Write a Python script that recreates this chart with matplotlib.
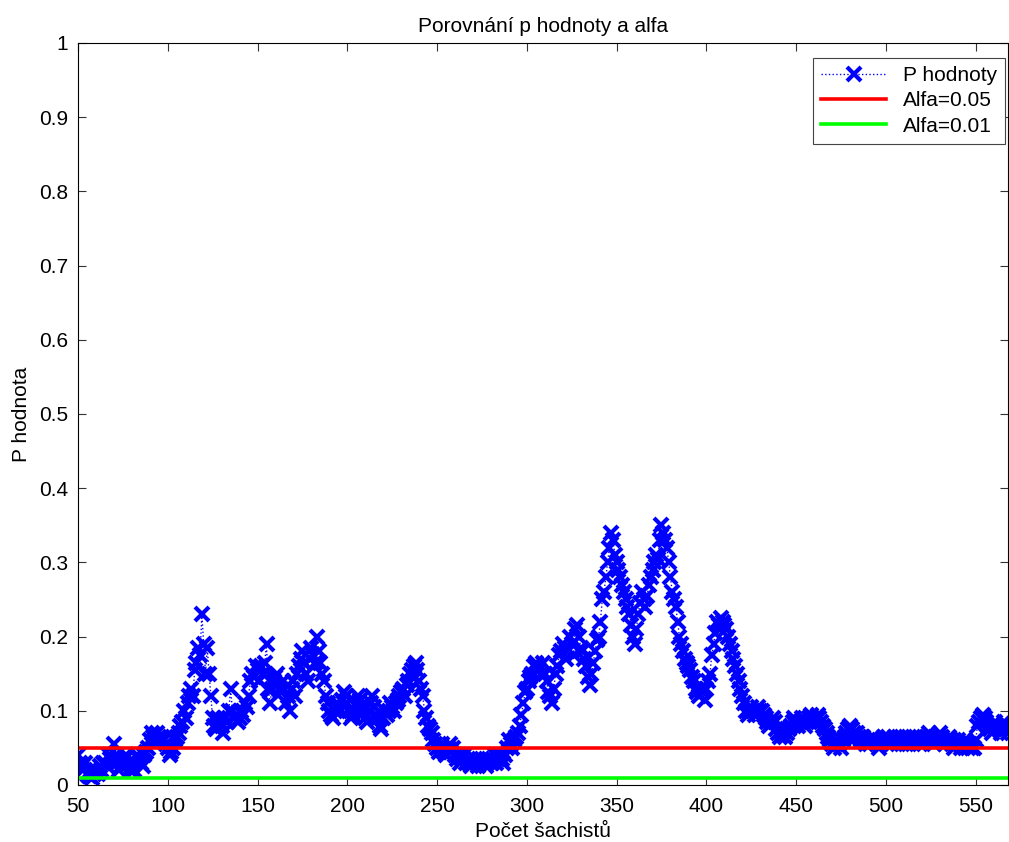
import matplotlib
matplotlib.use("Agg")
import matplotlib.pyplot as plt
import numpy as np

plt.rcParams['font.family'] = ['Liberation Sans', 'DejaVu Sans']

# pocet sachistu 50..568, p hodnoty
x_start = 50
p_vals = [
    0.04, 0.03, 0.025, 0.02, 0.03, 0.015, 0.012, 0.02, 0.01, 0.015,      # 50
    0.02, 0.015, 0.025, 0.02, 0.03, 0.03, 0.025, 0.04, 0.035, 0.03,      # 60
    0.055, 0.04, 0.03, 0.02, 0.025, 0.03, 0.035, 0.04, 0.03, 0.02,       # 70
    0.025, 0.02, 0.03, 0.04, 0.035, 0.03, 0.025, 0.04, 0.045, 0.05,      # 80
    0.06, 0.07, 0.065, 0.06, 0.07, 0.065, 0.06, 0.065, 0.06, 0.055,      # 90
    0.05, 0.04, 0.045, 0.05, 0.06, 0.065, 0.07, 0.08, 0.085, 0.1,        # 100
    0.09, 0.11, 0.12, 0.13, 0.12, 0.155, 0.165, 0.185, 0.175, 0.23,      # 110
    0.19, 0.15, 0.185, 0.15, 0.12, 0.09, 0.08, 0.075, 0.09, 0.085,       # 120
    0.08, 0.07, 0.09, 0.085, 0.1, 0.13, 0.1, 0.09, 0.095, 0.085,         # 130
    0.09, 0.1, 0.095, 0.11, 0.105, 0.12, 0.14, 0.15, 0.145, 0.16,        # 140
    0.155, 0.14, 0.16, 0.15, 0.165, 0.19, 0.13, 0.11, 0.13, 0.14,       # 150
    0.145, 0.15, 0.13, 0.125, 0.14, 0.13, 0.11, 0.12, 0.1, 0.13,         # 160
    0.14, 0.12, 0.15, 0.16, 0.17, 0.18, 0.165, 0.15, 0.14, 0.17,         # 170
    0.185, 0.175, 0.165, 0.2, 0.18, 0.165, 0.15, 0.14, 0.12, 0.11,       # 180
    0.1, 0.095, 0.09, 0.1, 0.11, 0.105, 0.1, 0.115, 0.125, 0.12,         # 190
    0.11, 0.1, 0.09, 0.095, 0.1, 0.11, 0.12, 0.115, 0.105, 0.1,          # 200
    0.09, 0.085, 0.1, 0.11, 0.12, 0.105, 0.095, 0.09, 0.08, 0.075,       # 210
    0.09, 0.1, 0.095, 0.1, 0.11, 0.105, 0.1, 0.11, 0.115, 0.12,          # 220
    0.125, 0.13, 0.12, 0.135, 0.14, 0.15, 0.155, 0.16, 0.165, 0.155,     # 230
    0.14, 0.13, 0.12, 0.1, 0.09, 0.08, 0.075, 0.07, 0.06, 0.055,         # 240
    0.05, 0.045, 0.05, 0.055, 0.045, 0.04, 0.05, 0.055, 0.045, 0.05,     # 250
    0.04, 0.035, 0.04, 0.03, 0.035, 0.04, 0.03, 0.035, 0.03, 0.025,      # 260
    0.03, 0.035, 0.03, 0.025, 0.03, 0.035, 0.03, 0.025, 0.03, 0.035,     # 270
    0.03, 0.035, 0.04, 0.03, 0.035, 0.04, 0.035, 0.03, 0.04, 0.05,       # 280
    0.06, 0.055, 0.05, 0.06, 0.065, 0.07, 0.08, 0.095, 0.11, 0.125,      # 290
    0.13, 0.14, 0.145, 0.15, 0.16, 0.165, 0.16, 0.155, 0.15, 0.165,      # 300
    0.15, 0.14, 0.125, 0.12, 0.11, 0.13, 0.15, 0.16, 0.175, 0.18,        # 310
    0.19, 0.185, 0.17, 0.18, 0.2, 0.19, 0.175, 0.21, 0.215, 0.2,         # 320
    0.185, 0.18, 0.17, 0.16, 0.145, 0.135, 0.15, 0.165, 0.18, 0.195,     # 330
    0.2, 0.22, 0.25, 0.26, 0.28, 0.3, 0.32, 0.34, 0.33, 0.31,            # 340
    0.3, 0.29, 0.28, 0.27, 0.26, 0.25, 0.24, 0.23, 0.215, 0.2,           # 350
    0.19, 0.21, 0.23, 0.245, 0.26, 0.25, 0.24, 0.255, 0.27, 0.28,        # 360
    0.29, 0.3, 0.31, 0.305, 0.33, 0.35, 0.34, 0.33, 0.32, 0.3,           # 370
    0.28, 0.26, 0.25, 0.24, 0.22, 0.2, 0.19, 0.18, 0.17, 0.165,          # 380
    0.16, 0.155, 0.145, 0.14, 0.13, 0.125, 0.12, 0.13, 0.125, 0.115,     # 390
    0.13, 0.14, 0.15, 0.175, 0.19, 0.205, 0.22, 0.215, 0.225, 0.22,      # 400
    0.215, 0.21, 0.2, 0.19, 0.18, 0.17, 0.16, 0.15, 0.14, 0.13,          # 410
    0.12, 0.11, 0.1, 0.095, 0.1, 0.105, 0.1, 0.095, 0.1, 0.105,          # 420
    0.1, 0.1, 0.095, 0.09, 0.085, 0.08, 0.085, 0.09, 0.085, 0.075,       # 430
    0.07, 0.065, 0.07, 0.075, 0.065, 0.07, 0.075, 0.08, 0.085, 0.09,     # 440
    0.085, 0.08, 0.085, 0.09, 0.085, 0.08, 0.085, 0.09, 0.095, 0.09,     # 450
    0.085, 0.09, 0.095, 0.09, 0.085, 0.08, 0.075, 0.07, 0.065, 0.06,     # 460
    0.055, 0.05, 0.055, 0.06, 0.055, 0.05, 0.06, 0.065, 0.07, 0.075,     # 470
    0.08, 0.075, 0.07, 0.065, 0.07, 0.065, 0.06, 0.065, 0.06, 0.055,     # 480
    0.06, 0.055, 0.06, 0.065, 0.06, 0.055, 0.05, 0.055, 0.06, 0.065,     # 490
    0.06, 0.065, 0.06, 0.055, 0.06, 0.065, 0.06, 0.055, 0.06, 0.065,     # 500
    0.06, 0.055, 0.06, 0.065, 0.06, 0.055, 0.06, 0.065, 0.06, 0.055,     # 510
    0.06, 0.065, 0.06, 0.065, 0.07, 0.065, 0.06, 0.055, 0.06, 0.065,     # 520
    0.07, 0.065, 0.06, 0.055, 0.06, 0.065, 0.06, 0.055, 0.05, 0.055,     # 530
    0.06, 0.055, 0.05, 0.055, 0.06, 0.055, 0.05, 0.055, 0.05, 0.05,      # 540
    0.06, 0.08, 0.085, 0.09, 0.095, 0.09, 0.085, 0.08, 0.075, 0.07,      # 550
    0.08, 0.085, 0.08, 0.075, 0.07, 0.08, 0.085, 0.075, 0.07,            # 560
]
x_vals = np.arange(x_start, x_start + len(p_vals))
alfa1 = 0.05
alfa2 = 0.01

xticks = [50, 100, 150, 200, 250, 300, 350, 400, 450, 500, 550]
yticks = [0, 0.1, 0.2, 0.3, 0.4, 0.5, 0.6, 0.7, 0.8, 0.9, 1]
ytick_labels = ["0", "0.1", "0.2", "0.3", "0.4", "0.5", "0.6", "0.7", "0.8", "0.9", "1"]

FS = 15

fig = plt.figure(figsize=(10.09, 8.42), dpi=100)
ax = fig.add_axes([0.0773, 0.0677, 0.9217, 0.8813])

ax.plot(x_vals, p_vals, color="blue", linestyle=":", linewidth=1,
        marker="x", markersize=10, markeredgewidth=3, label="P hodnoty")
ax.axhline(alfa1, color=(1, 0, 0), linewidth=2.6, label="Alfa=0.05")
ax.axhline(alfa2, color=(0, 1, 0), linewidth=2.6, label="Alfa=0.01")

ax.set_xlim(50, 568)
ax.set_ylim(0, 1)
ax.set_xticks(xticks)
ax.set_yticks(yticks)
ax.set_yticklabels(ytick_labels)
ax.tick_params(direction="in", length=6, top=True, right=True, labelsize=FS,
               color="#333333")
ax.tick_params(axis="x", pad=9)
ax.tick_params(axis="y", pad=7)
for s in ax.spines.values():
    s.set_linewidth(0.8)

ax.set_title("Porovnání p hodnoty a alfa", fontsize=FS, pad=8)
ax.set_xlabel("Počet šachistů", fontsize=FS, labelpad=4)
ax.set_ylabel("P hodnota", fontsize=FS, labelpad=6)

leg = ax.legend(loc="upper right", bbox_to_anchor=(0.997, 0.98), borderaxespad=0,
                fontsize=FS, fancybox=False, framealpha=1, edgecolor="#444444",
                handlelength=3.1, labelspacing=0.3, borderpad=0.4)
leg.get_frame().set_linewidth(0.8)

plt.savefig("out.png", dpi=100)
